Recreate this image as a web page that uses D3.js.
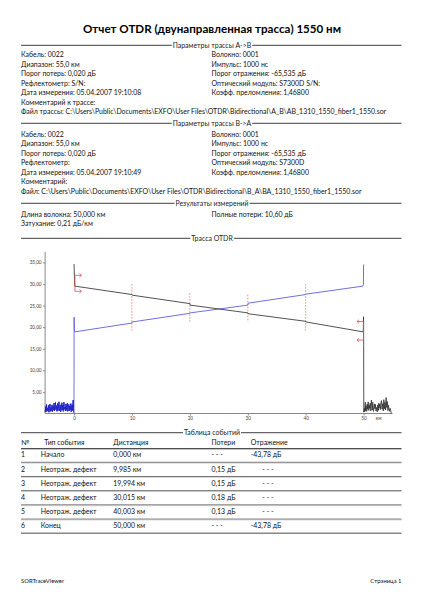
<!DOCTYPE html>
<html><head><meta charset="utf-8">
<script src="https://cdn.jsdelivr.net/npm/d3@7"></script>
<style>body{margin:0;background:#fff}svg{display:block}text{font-family:Lato,"Open Sans",sans-serif;fill:#111}</style>
</head><body>
<script>
// ---------- data ----------
const title = "Отчет OTDR (двунаправленная трасса) 1550 нм";
const sectionAB = "Параметры трассы A->B";
const leftAB = ["Кабель: 0022","Диапазон: 55,0 км","Порог потерь: 0,020 дБ","Рефлектометр:  S/N:","Дата измерения: 05.04.2007 19:10:08","Комментарий к трассе:","Файл трассы: C:\\Users\\Public\\Documents\\EXFO\\User Files\\OTDR\\Bidirectional\\A_B\\AB_1310_1550_fiber1_1550.sor"];
const rightAB = ["Волокно: 0001","Импульс: 1000 нс","Порог отражения: -65,535 дБ","Оптический модуль: S7300D S/N:","Коэфф. преломления: 1,46800"];
const sectionBA = "Параметры трассы B->A";
const leftBA = ["Кабель: 0022","Диапазон: 55,0 км","Порог потерь: 0,020 дБ","Рефлектометр:","Дата измерения: 05.04.2007 19:10:49","Комментарий:","Файл: C:\\Users\\Public\\Documents\\EXFO\\User Files\\OTDR\\Bidirectional\\B_A\\BA_1310_1550_fiber1_1550.sor"];
const rightBA = ["Волокно: 0001","Импульс: 1000 нс","Порог отражения: -65,535 дБ","Оптический модуль: S7300D","Коэфф. преломления: 1,46800"];
const sectionRes = "Результаты измерений";
const leftRes = ["Длина волокна: 50,000 км","Затухание: 0,21 дБ/км"];
const rightRes = ["Полные потери: 10,60 дБ"];
const sectionTrace = "Трасса OTDR";
const sectionTable = "Таблица событий";

const xTicks = [0,10,20,30,40,50];
const yTicks = [5,10,15,20,25,30,35];
const xUnit = "км";

// trace A->B (km, dB)
const traceAB = [[0,34.6],[0.03,33.0],[0.12,29.5],[9.985,27.55],[10.05,27.4],[19.994,25.45],[20.06,25.1],[30.015,23.3],[30.08,23.1],[40.003,21.35],[40.07,21.2],[49.95,18.9],[50.0,22.4],[50.02,16.0],[50.04,0.3],
[50.15,1.2],[50.2,0.4],[50.3,2.6],[50.35,0.6],[50.45,1.8],[50.55,0.5],[50.65,2.2],[50.7,1.0],[50.8,2.7],[50.9,0.7],[51.0,1.9],[51.05,1.2],[51.15,2.4],[51.25,0.6],[51.35,3.1],[51.45,1.6],[51.5,0.8],[51.6,2.6],[51.7,0.5],[51.8,1.4],[51.9,2.2],[51.95,1.1],[52.05,2.1],[52.15,0.6],[52.25,1.4],[52.35,0.4],[52.45,2.0],[52.55,0.7],[52.65,2.4],[52.7,1.3],[52.8,2.2],[52.9,0.9],[53.0,2.5],[53.1,3.0],[53.2,1.0],[53.3,2.3],[53.4,0.6],[53.5,3.2],[53.6,1.1],[53.7,2.6],[53.8,0.8],[53.9,3.7],[54.0,1.4],[54.1,2.8],[54.2,0.7],[54.3,1.9],[54.45,0.5],[54.6,1.2],[54.75,0.3],[54.8,0]];
// trace B->A shown reversed (km, dB)
const traceBA = [[-5.0,0.3],[-4.9,1.6],[-4.85,0.4],[-4.75,2.1],[-4.7,0.5],[-4.6,1.3],[-4.5,0.6],[-4.4,1.9],[-4.35,0.3],[-4.25,1.1],[-4.15,2.2],[-4.1,0.5],[-4.0,1.4],[-3.9,0.7],[-3.8,2.0],[-3.75,0.4],[-3.65,1.7],[-3.55,0.8],[-3.45,2.4],[-3.4,0.6],[-3.3,1.5],[-3.2,2.6],[-3.15,0.9],[-3.05,1.8],[-2.95,0.5],[-2.85,2.3],[-2.8,0.7],[-2.7,1.2],[-2.6,2.7],[-2.55,0.6],[-2.45,1.6],[-2.35,2.0],[-2.3,0.4],[-2.2,1.3],[-2.1,2.5],[-2.05,0.8],[-1.95,1.9],[-1.85,0.5],[-1.75,2.6],[-1.7,1.0],[-1.6,1.5],[-1.5,0.6],[-1.4,2.2],[-1.35,0.7],[-1.25,1.8],[-1.15,2.4],[-1.1,0.5],[-1.0,1.4],[-0.9,2.1],[-0.85,0.6],[-0.75,1.7],[-0.65,0.9],[-0.55,2.3],[-0.5,0.4],[-0.4,1.6],[-0.3,2.0],[-0.25,0.7],[-0.15,3.1],[-0.08,0.5],[-0.02,0.2],
[0.0,8.0],[0.01,22.3],[0.05,19.5],[0.12,18.9],[9.985,20.95],[10.05,21.2],[19.994,23.2],[20.06,23.3],[30.015,25.1],[30.08,25.55],[40.003,27.55],[40.07,27.65],[49.9,29.5],[49.98,29.9],[50.0,34.5]];

const eventDist = [9.985,19.994,30.015,40.003];
const startMarker = [32.0,28.3];  // dB top/bottom of launch marker
const endMarker = [21.3,17.0];

const tableCols = ["№","Тип события","Дистанция","Потери","Отражение"];
const evNum = ["1","2","3","4","5","6"];
const evType = ["Начало","Неотраж. дефект","Неотраж. дефект","Неотраж. дефект","Неотраж. дефект","Конец"];
const evDistLbl = ["0,000 км","9,985 км","19,994 км","30,015 км","40,003 км","50,000 км"];
const evLoss = ["- - -","0,15 дБ","0,15 дБ","0,18 дБ","0,13 дБ","- - -"];
const evRefl = ["-43,78 дБ","- - -","- - -","- - -","- - -","-43,78 дБ"];
const footerL = "SORTraceViewer", footerR = "Страница 1";

// ---------- drawing ----------
const W=424,H=598;
const svg=d3.select("body").append("svg").attr("width",W).attr("height",H);
svg.append("rect").attr("width",W).attr("height",H).attr("fill","#fff");
const L=21, R=401.5, C2=211.5, FS=6.95, LH=9.5;

function txt(x,y,s,o={}){
  return svg.append("text").attr("x",x).attr("y",y).text(s)
    .attr("font-size",o.fs||FS).attr("font-weight",o.bold?"bold":null)
    .attr("text-anchor",o.anchor||"start").style("fill",o.fill||"#111");
}
function section(y,label){
  const t=txt(W/2,y+2.3,label,{anchor:"middle",fs:6.95,fill:"#222"});
  const w=t.node().getComputedTextLength();
  svg.append("line").attr("x1",L).attr("x2",W/2-w/2-1).attr("y1",y).attr("y2",y).attr("stroke","#666").attr("stroke-width",1.3);
  svg.append("line").attr("x1",W/2+w/2+1).attr("x2",R).attr("y1",y).attr("y2",y).attr("stroke","#666").attr("stroke-width",1.3);
}
function block(y0,left,right){
  left.forEach((s,i)=>txt(L,y0+i*LH+2.4,s));
  right.forEach((s,i)=>txt(C2,y0+i*LH+2.4,s));
}

txt(W/2,33,title,{anchor:"middle",bold:true,fs:11.6,fill:"#000"});
section(45.3,sectionAB); block(55,leftAB,rightAB);
section(123.3,sectionBA); block(134.3,leftBA,rightBA);
section(203.3,sectionRes); block(214.3,leftRes,rightRes);
section(238.3,sectionTrace);

// chart
const x=d3.scaleLinear().domain([-5,55]).range([45.1,392.5]);
const y=d3.scaleLinear().domain([0,37.4]).range([413.5,252]);
const g=svg.append("g");
const yAx=g.append("g").attr("transform","translate(45.1,0)").call(d3.axisLeft(y).tickValues(yTicks).tickFormat(d=>d3.format(".2f")(d).replace(".",",")).tickSize(2).tickPadding(1.5));
const xAx=g.append("g").attr("transform","translate(0,413.5)").call(d3.axisBottom(x).tickValues(xTicks).tickSize(2).tickPadding(1.5));
[yAx,xAx].forEach(a=>{a.select(".domain").attr("stroke","#888");a.selectAll(".tick line").attr("stroke","#888");a.selectAll("text").attr("font-size",4.7).style("fill","#444").attr("font-family","Lato,sans-serif");});
yAx.select(".domain").attr("d",`M0,${y(37.4)}V${y(0)}`);
xAx.select(".domain").attr("d",`M${x(-5)},0H${x(55)}`);
svg.append("text").attr("x",x(52.6)).attr("y",420).text(xUnit).attr("font-size",4.7).attr("text-anchor","middle").style("fill","#444");

const line=d3.line().x(d=>x(d[0])).y(d=>y(d[1]));
// event dashed lines
function interp(tr,d){for(let i=1;i<tr.length;i++){if(tr[i][0]>=d&&tr[i-1][0]<=d){const a=tr[i-1],b=tr[i];return a[1]+(b[1]-a[1])*(d-a[0])/(b[0]-a[0]);}}return 0;}
eventDist.forEach(d=>{
  const v1=interp(traceAB,d), v2=interp(traceBA,d);
  svg.append("line").attr("x1",x(d)).attr("x2",x(d)).attr("y1",y(Math.max(v1,v2)+2.4)).attr("y2",y(Math.min(v1,v2)-2.1))
   .attr("stroke","#e06a6a").attr("stroke-width",0.8).attr("stroke-dasharray","1.5,1.5");
});
svg.append("path").attr("d",line(traceBA)).attr("fill","none").attr("stroke","#5f5fe0").attr("stroke-width",0.9);
svg.append("path").attr("d",line(traceBA.filter(d=>d[0]<0))).attr("fill","none").attr("stroke","#1e1ec8").attr("stroke-width",0.8);
svg.append("path").attr("d",line(traceAB)).attr("fill","none").attr("stroke","#333").attr("stroke-width",0.85);

// markers
function bracket(d,top,bot,dir){
  const xx=x(d), col="#d85858";
  svg.append("line").attr("x1",xx).attr("x2",xx).attr("y1",y(top)).attr("y2",y(bot)).attr("stroke",col).attr("stroke-width",0.9);
  [top,bot].forEach(v=>{
    const yy=y(v), tip=xx+dir*6.5;
    svg.append("path").attr("d",`M${xx},${yy}H${tip}M${tip-dir*2},${yy-1.8}L${tip},${yy}L${tip-dir*2},${yy+1.8}`).attr("fill","none").attr("stroke",col).attr("stroke-width",0.8);
  });
}
bracket(0.15,startMarker[0],startMarker[1],1);
bracket(50,endMarker[0],endMarker[1],-1);

// table
section(432.7,sectionTable);
const colX=[21,44.3,113.3,211.5,250.7];
tableCols.forEach((s,i)=>txt(colX[i],442.3+2.4,s));
svg.append("line").attr("x1",L).attr("x2",R).attr("y1",448.5).attr("y2",448.5).attr("stroke","#333").attr("stroke-width",0.9);
svg.append("line").attr("x1",L).attr("x2",R).attr("y1",449.4).attr("y2",449.4).attr("stroke","#aaa").attr("stroke-width",0.8);
const rowY=d3.range(evNum.length).map(i=>455+i*14.2);
evNum.forEach((s,i)=>{
  const yy=rowY[i]+2.4;
  txt(21,yy,s); txt(40.7,yy,evType[i]); txt(113.3,yy,evDistLbl[i]);
  txt(211.5,yy,evLoss[i]);
  txt(evRefl[i].startsWith("-4")?250.7:262.3,yy,evRefl[i]);
  const ly=rowY[i]+7.3;
  if(i<evNum.length-1){
    svg.append("line").attr("x1",L).attr("x2",R).attr("y1",ly).attr("y2",ly).attr("stroke","#444").attr("stroke-width",0.8);
    svg.append("line").attr("x1",L).attr("x2",R).attr("y1",ly+0.8).attr("y2",ly+0.8).attr("stroke","#bbb").attr("stroke-width",0.7);
  } else {
    svg.append("line").attr("x1",L).attr("x2",R).attr("y1",ly).attr("y2",ly).attr("stroke","#888").attr("stroke-width",1.4);
  }
});

txt(L,582.5,footerL,{fs:5.9});
txt(R,582.5,footerR,{fs:5.9,anchor:"end"});
</script>
</body></html>
